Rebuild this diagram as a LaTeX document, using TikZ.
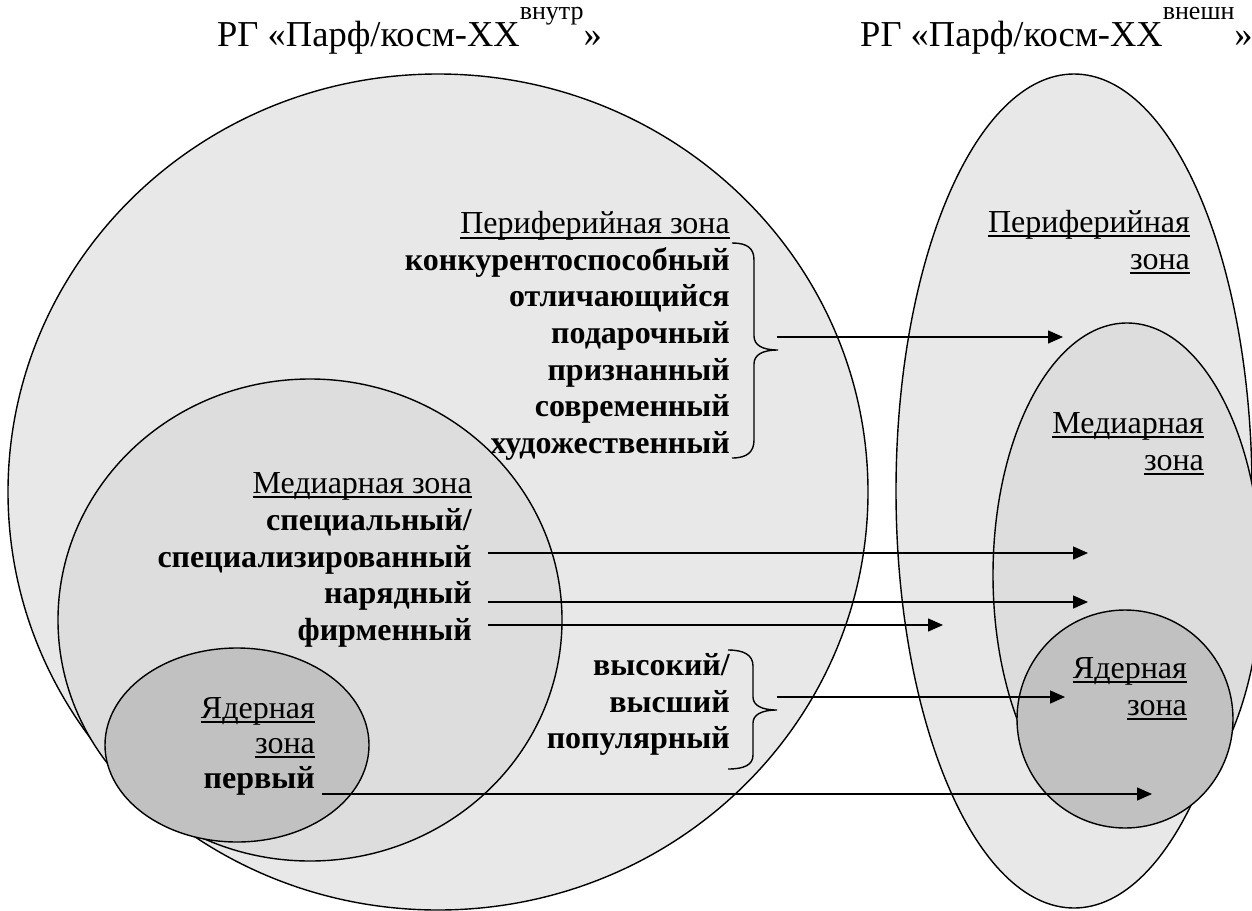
\documentclass[tikz,border=0pt]{standalone}
\usepackage{fontspec}
\setmainfont{LiberationSerif}[Extension=.ttf, UprightFont=*-Regular, BoldFont=*-Bold, ItalicFont=*-Italic, BoldItalicFont=*-BoldItalic]
\usetikzlibrary{shapes.geometric,arrows.meta}

\definecolor{zoneouter}{gray}{0.91}
\definecolor{zonemid}{gray}{0.865}
\definecolor{zonecore}{gray}{0.755}

% underlined zone heading
\newsavebox\zonebox
\newcommand\zoneul[1]{\sbox\zonebox{#1}\rlap{\rule[-0.16em]{\wd\zonebox}{0.065em}}\usebox\zonebox}
% raised index in the group titles
\newcommand\ttlsup[1]{\raisebox{27pt}{\fontsize{26}{26}\selectfont #1}}

\tikzset{
  zone/.style={ellipse, draw, line width=1.4pt, inner sep=0pt, outer sep=0pt},
  lbl/.style={anchor=base east, inner sep=0pt, font=\fontsize{32}{36.6}\selectfont},
  bld/.style={anchor=base east, inner sep=0pt, font=\fontsize{32}{36.6}\selectfont\bfseries},
  ttl/.style={anchor=base west, inner sep=0pt, font=\fontsize{36.5}{40}\selectfont},
  arr/.style={-{Triangle[length=15pt,width=13pt]}, line width=1.4pt},
  brc/.style={line width=1.4pt},
}

\begin{document}
\begin{tikzpicture}[x=1pt,y=-1pt]
\useasboundingbox (0,0) rectangle (1252,910);

% titles
\node[ttl] (titleL) at (217,46) {РГ «Парф/косм-XX\ttlsup{внутр}»};
\node[ttl] (titleR) at (860,46) {РГ «Парф/косм-XX\ttlsup{внешн}»};

% inner group: nested zones
\node[zone, fill=zoneouter, minimum width=860, minimum height=836] (outerL) at (438,492) {};
\node[zone, fill=zonemid, minimum width=504, minimum height=482] (midL) at (310,620) {};
\node[zone, fill=zonecore, minimum width=264, minimum height=194] (coreL) at (237,745) {};

% outer group: nested zones
\node[zone, fill=zoneouter, minimum width=356, minimum height=834] (outerR) at (1074,491) {};
\node[zone, fill=zonemid, minimum width=268, minimum height=504] (midR) at (1127,575) {};
\node[zone, fill=zonecore, minimum width=216, minimum height=218] (coreR) at (1125,719) {};

% periphery of the inner group
\node[lbl] (perH) at (730,233.5) {\zoneul{Периферийная зона}};
\node[bld] (p1) at (730,270) {конкурентоспособный};
\node[bld] (p2) at (730,306.7) {отличающийся};
\node[bld] (p3) at (730,343.3) {подарочный};
\node[bld] (p4) at (730,380) {признанный};
\node[bld] (p5) at (730,416.6) {современный};
\node[bld] (p6) at (730,453.2) {художественный};

% mediary zone of the inner group
\node[lbl] (medH) at (472,493) {\zoneul{Медиарная зона}};
\node[bld] (m1) at (472,530) {специальный/};
\node[bld] (m2) at (472,567) {специализированный};
\node[bld] (m3) at (472,603) {нарядный};
\node[bld] (m4) at (472,640) {фирменный};

% items on the mediary/periphery border
\node[bld] (h1) at (730,675) {высокий/};
\node[bld] (h2) at (730,712) {высший};
\node[bld] (h3) at (730,748) {популярный};

% core of the inner group
\node[lbl] (coreH1) at (315,718) {\zoneul{Ядерная}};
\node[lbl] (coreH2) at (315,753) {\zoneul{зона}};
\node[bld] (c1) at (315,788) {первый};

% zone headings of the outer group
\node[lbl] (rPer1) at (1190,232) {\zoneul{Периферийная}};
\node[lbl] (rPer2) at (1190,269) {\zoneul{зона}};
\node[lbl] (rMed1) at (1204,433) {\zoneul{Медиарная}};
\node[lbl] (rMed2) at (1204,470) {\zoneul{зона}};
\node[lbl] (rCore1) at (1187,678) {\zoneul{Ядерная}};
\node[lbl] (rCore2) at (1187,715) {\zoneul{зона}};

% braces
\draw[brc] (732,243) .. controls (747,243) and (754,248) .. (754,260) -- (754,336)
  .. controls (754,345) and (762,350) .. (778,350)
  .. controls (762,350) and (754,355) .. (754,364) -- (754,440)
  .. controls (754,452) and (747,458) .. (732,458);
\draw[brc] (728,650) .. controls (744,650) and (753,655) .. (753,666) -- (753,697)
  .. controls (753,705) and (761,710) .. (777,710)
  .. controls (761,710) and (753,715) .. (753,723) -- (753,755)
  .. controls (753,765) and (744,769) .. (728,769);

% arrow ends
\coordinate (sA) at (777,337);  \coordinate (tA) at (1063,337);
\coordinate (sM2) at (488,553); \coordinate (tM2) at (1088,553);
\coordinate (sM3) at (488,602); \coordinate (tM3) at (1088,602);
\coordinate (sM4) at (488,625); \coordinate (tM4) at (943,625);
\coordinate (sH) at (777,697);  \coordinate (tH) at (1065,697);
\coordinate (sC) at (322,794);  \coordinate (tC) at (1152,794);

\draw[arr] (sA) -- (tA);
\draw[arr] (sM2) -- (tM2);
\draw[arr] (sM3) -- (tM3);
\draw[arr] (sM4) -- (tM4);
\draw[arr] (sH) -- (tH);
\draw[arr] (sC) -- (tC);
\end{tikzpicture}
\end{document}
